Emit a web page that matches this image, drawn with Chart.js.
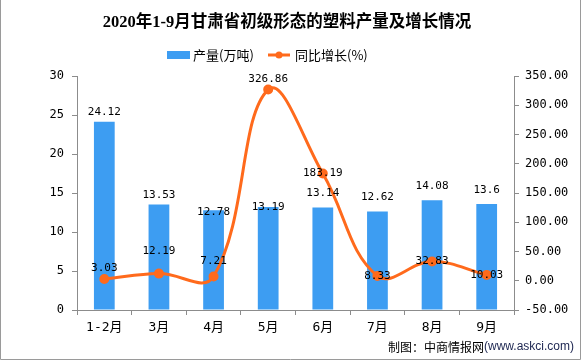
<!DOCTYPE html>
<html>
<head>
<meta charset="utf-8">
<script src="https://cdn.jsdelivr.net/npm/chart.js@4/dist/chart.umd.min.js"></script>
<style>
  html, body { margin: 0; padding: 0; background: #fff; }
  canvas { display: block; }
</style>
</head>
<body>
<canvas id="chart" width="581" height="360"></canvas>
<script>
// --- data ---
const months = ['1-2月', '3月', '4月', '5月', '6月', '7月', '8月', '9月'];
const output = [24.12, 13.53, 12.78, 13.19, 13.14, 12.62, 14.08, 13.6];
const growth = [3.03, 12.19, 7.21, 326.86, 183.19, 8.33, 32.83, 10.03];

const titleText = '2020年1-9月甘肃省初级形态的塑料产量及增长情况';
const barLabel = '产量(万吨)';
const lineLabel = '同比增长(%)';
const sourceText = '制图：中商情报网';
const sourceUrl = '(www.askci.com)';

// --- style ---
const barColor = '#3d9df2';
const lineColor = '#ff6a1c';
const axisColor = '#8c8c8c';
const tickFont = { family: '"DejaVu Sans Mono", "Noto Sans CJK SC"', size: 12 };
// label nudges (px, relative to bar top / point) so they sit like the original
const barLabelShift = [-9, -8, 3, 1, -13, -13, -13, -13];
const lineLabelShift = [-11, -22, -15, -10, 0, 0, 0, 0];

const decorPlugin = {
    id: 'decor',
    afterDatasetsDraw(chart) {
        const ctx = chart.ctx;
        ctx.save();
        ctx.textAlign = 'center';
        ctx.textBaseline = 'middle';
        ctx.fillStyle = '#000';
        ctx.font = '11px "DejaVu Sans Mono"';
        chart.getDatasetMeta(1).data.forEach((bar, i) => {
            ctx.fillText(String(output[i]), bar.x, bar.y - 1 + barLabelShift[i]);
        });
        chart.getDatasetMeta(0).data.forEach((pt, i) => {
            ctx.fillText(growth[i].toFixed(2), pt.x, pt.y + lineLabelShift[i]);
        });
        ctx.restore();
    },
    afterDraw(chart) {
        const ctx = chart.ctx;
        ctx.save();
        // title
        ctx.fillStyle = '#000';
        ctx.textAlign = 'center';
        ctx.textBaseline = 'middle';
        ctx.font = 'bold 16.5px "Liberation Serif", "Noto Sans CJK SC"';
        ctx.fillText(titleText, 287, 23);

        // legend
        ctx.font = '13px "Noto Sans CJK SC"';
        ctx.textAlign = 'left';
        ctx.fillStyle = barColor;
        ctx.fillRect(167, 51, 23, 8);
        ctx.fillStyle = '#000';
        ctx.fillText(barLabel, 193, 55);
        ctx.strokeStyle = lineColor;
        ctx.lineWidth = 3;
        ctx.beginPath();
        ctx.moveTo(268, 55);
        ctx.lineTo(290, 55);
        ctx.stroke();
        ctx.fillStyle = lineColor;
        ctx.beginPath();
        ctx.arc(279, 55, 3.5, 0, Math.PI * 2);
        ctx.fill();
        ctx.fillStyle = '#000';
        ctx.fillText(lineLabel, 295, 55);

        // source
        ctx.textAlign = 'right';
        ctx.font = '12px "Liberation Sans", "Noto Sans CJK SC"';
        ctx.fillStyle = '#1c2550';
        ctx.fillText(sourceUrl, 574, 347);
        const w = ctx.measureText(sourceUrl).width;
        ctx.fillStyle = '#000';
        ctx.font = '12px "Noto Sans CJK SC"';
        ctx.fillText(sourceText, 574 - w, 347);

        // frame
        ctx.strokeStyle = '#9a9a9a';
        ctx.lineWidth = 1;
        ctx.beginPath();
        ctx.moveTo(0.5, 0);
        ctx.lineTo(0.5, 359.5);
        ctx.lineTo(580.5, 359.5);
        ctx.lineTo(580.5, 0);
        ctx.stroke();
        ctx.restore();
    }
};

new Chart(document.getElementById('chart'), {
    type: 'bar',
    data: {
        labels: months,
        datasets: [{
            type: 'line',
            label: lineLabel,
            data: growth,
            yAxisID: 'y1',
            borderColor: lineColor,
            backgroundColor: lineColor,
            borderWidth: 3,
            pointRadius: 3.5,
            pointHoverRadius: 3.5,
            tension: 0.4,
            order: 0
        }, {
            type: 'bar',
            label: barLabel,
            data: output,
            yAxisID: 'y',
            backgroundColor: barColor,
            barPercentage: 0.38,
            categoryPercentage: 1,
            order: 1
        }]
    },
    options: {
        responsive: false,
        animation: false,
        devicePixelRatio: 1,
        layout: { padding: { top: 76, left: 0, right: 0, bottom: 0 } },
        plugins: {
            legend: { display: false },
            title: { display: false },
            tooltip: { enabled: false }
        },
        scales: {
            x: {
                afterFit: (s) => { s.height = 50; },
                grid: { offset: true, drawOnChartArea: false, tickLength: 5, color: axisColor },
                border: { color: axisColor },
                ticks: { color: '#000', font: { family: '"DejaVu Sans Mono", "Noto Sans CJK SC"', size: 13 }, padding: 5 }
            },
            y: {
                position: 'left',
                min: 0,
                max: 30,
                afterFit: (s) => { s.width = 77; },
                grid: { drawOnChartArea: false, tickLength: 5, color: axisColor },
                border: { color: axisColor },
                ticks: { stepSize: 5, color: '#000', font: tickFont, padding: 8 }
            },
            y1: {
                position: 'right',
                min: -50,
                max: 350,
                afterFit: (s) => { s.width = 67; },
                grid: { drawOnChartArea: false, tickLength: 5, color: axisColor },
                border: { color: axisColor },
                ticks: {
                    stepSize: 50,
                    color: '#000',
                    font: tickFont,
                    padding: 6,
                    callback: (v) => Number(v).toFixed(2)
                }
            }
        }
    },
    plugins: [decorPlugin]
});
</script>
</body>
</html>
